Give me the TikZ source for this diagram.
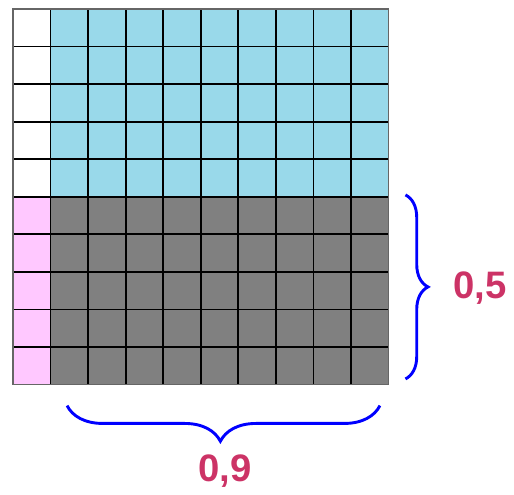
\documentclass[tikz,border=0pt]{standalone}
\usepackage{fontspec}
\setsansfont{Liberation Sans}
\usetikzlibrary{decorations.pathreplacing}
\definecolor{cellblue}{RGB}{153,217,234}
\definecolor{cellpink}{RGB}{255,200,255}
\definecolor{cellgray}{RGB}{128,128,128}
\definecolor{labelred}{RGB}{204,51,102}
\begin{document}
\begin{tikzpicture}[
  gridline/.style={draw=black, line width=1.3pt},
  bracepath/.style={draw=blue, line width=2.2pt, decorate},
  numlabel/.style={font=\sffamily\bfseries\fontsize{29}{30}\selectfont, text=labelred, inner sep=0pt}
]
  \useasboundingbox (-0.346,-2.93) rectangle (13.34,10.24);

  % Fills: top half and bottom half
  \fill[white] (0,5) rectangle (1,10);
  \fill[cellblue] (1,5) rectangle (10,10);
  \fill[cellpink] (0,0) rectangle (1,5);
  \fill[cellgray] (1,0) rectangle (10,5);

  % Grid
  \draw[gridline] (0,0) grid (10,10);
  \draw[draw=gray!80!black, line width=1.4pt] (0,0) rectangle (10,10);

  % Braces
  \coordinate (rtop) at (10.45,5.05);
  \coordinate (rbot) at (10.45,0.15);
  \coordinate (bleft) at (1.44,-0.56);
  \coordinate (bright) at (9.77,-0.56);
  \draw[bracepath, decoration={brace, amplitude=0.6cm}] (rtop) -- (rbot);
  \draw[bracepath, decoration={brace, amplitude=0.95cm, aspect=0.51}] (bright) -- (bleft);

  % Labels
  \node[numlabel] (half) at (12.44,2.58) {0,5};
  \node[numlabel] (nine) at (5.65,-2.30) {0,9};
\end{tikzpicture}
\end{document}
